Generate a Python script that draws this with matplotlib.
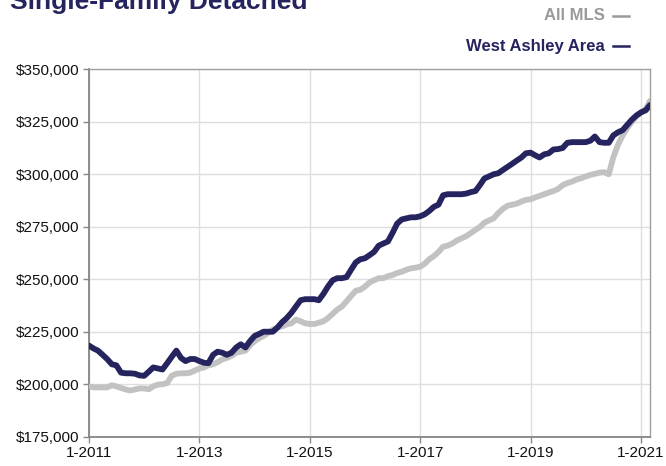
import matplotlib
matplotlib.use("Agg")
import matplotlib.pyplot as plt
import matplotlib.dates as mdates
from matplotlib.lines import Line2D
import pandas as pd

NAVY = "#25245f"
GRAY = "#c2c2c2"

# monthly median sales price, Jan 2011 .. Mar 2021
west_ashley = [
    218400, 217000, 216000, 214000, 212000, 209500, 209000, 205500, 205200, 205200, 205000, 204200,
    204000, 206000, 208000, 207500, 207000, 210000, 213000, 216000, 212500, 211000, 212000, 212000,
    211000, 210200, 210000, 214000, 215500, 215000, 214000, 215000, 217500, 219000, 217500, 220500,
    223000, 224000, 225000, 225000, 225000, 227000, 229500, 231500, 234000, 237000, 240000, 240500,
    240500, 240500, 240000, 243000, 246500, 249500, 250500, 250500, 251000, 254500, 258000, 259500,
    260000, 261500, 263000, 266000, 267000, 268000, 272000, 276500, 278500, 279000, 279500, 279500,
    280000, 281000, 282500, 284500, 285500, 290000, 290500, 290500, 290500, 290500, 290800, 291500,
    292000, 295000, 298000, 299000, 300000, 300500, 302000, 303500, 305000, 306500, 308000, 310000,
    310300, 309000, 308000, 309500, 310000, 311800, 312000, 312500, 315000, 315300, 315300, 315300,
    315300, 316000, 318000, 315300, 315000, 315000, 318500, 320000, 321000, 323500, 326000, 328000,
    329500, 330500, 333000,
]
all_mls = [
    199000, 198500, 198500, 198500, 198500, 199500, 199000, 198200, 197500, 197000, 197500, 198000,
    198000, 197600, 199000, 199800, 200000, 200500, 204000, 205000, 205200, 205200, 205500, 206500,
    207500, 208000, 209000, 209500, 210500, 211800, 212500, 213500, 215000, 215500, 216000, 218500,
    220500, 222000, 223000, 224500, 226000, 227000, 227500, 228500, 229000, 230800, 230000, 229000,
    228700, 228700, 229300, 230000, 231500, 233500, 235500, 237000, 239500, 242000, 244500, 245000,
    246500, 248500, 249500, 250500, 250500, 251500, 252000, 253000, 253600, 254500, 255200, 255500,
    256000, 257500, 259500, 261000, 263000, 265500, 266000, 267000, 268500, 269500, 270500, 272000,
    273500, 275000, 277000, 278000, 279000, 281500, 283500, 285000, 285500, 286000, 287000, 287800,
    288100, 289000, 289700, 290500, 291300, 292000, 293000, 294800, 295800, 296500, 297500, 298100,
    299000, 299700, 300200, 300800, 301000, 300000, 308000, 314000, 318500, 322000, 325000, 327500,
    329500, 331000, 335000,
]
months = pd.date_range("2011-01-01", periods=len(west_ashley), freq="MS")
tick_years = [2011, 2013, 2015, 2017, 2019, 2021]
y_ticks = [175000, 200000, 225000, 250000, 275000, 300000, 325000, 350000]

plt.rcParams["font.family"] = ["Liberation Sans", "DejaVu Sans"]

fig = plt.figure(figsize=(6.66, 4.66), dpi=100)
ax = fig.add_axes([89/666, 1 - 436.7/466, (650 - 89)/666, (436.7 - 69.3)/466])

ax.plot(months, all_mls, color=GRAY, lw=4.2, solid_capstyle="round", solid_joinstyle="round", zorder=3)
ax.plot(months, west_ashley, color=NAVY, lw=4.2, solid_capstyle="round", solid_joinstyle="round", zorder=4)

ax.set_xlim(months[0], months[-1])
ax.set_ylim(175000, 350000)
ax.set_xticks([pd.Timestamp(f"{y}-01-01") for y in tick_years])
ax.set_xticklabels([f"1-{y}" for y in tick_years], fontsize=11)
ax.set_yticks(y_ticks)
ax.set_yticklabels([f"${v:,.0f}" for v in y_ticks], fontsize=11)
ax.grid(True, color="#dedede", lw=1)
ax.set_axisbelow(True)
ax.tick_params(axis="both", color="#888888", length=4, width=1, colors="#111111", pad=3)
ax.tick_params(axis="both", color="#888888")
for s in ("left", "bottom"):
    ax.spines[s].set_color("#858585")
    ax.spines[s].set_linewidth(1.3)
for s in ("top", "right"):
    ax.spines[s].set_color("#a0a0a0")
    ax.spines[s].set_linewidth(1.0)

# cut-off title at the very top
fig.text(10/666, 1 - 9/466, "Single-Family Detached", fontsize=19, fontweight="bold",
         color=NAVY, ha="left", va="baseline")

# legend entries, right aligned with a short dash
fig.text(605/666, 1 - 16/466, "All MLS", fontsize=12, fontweight="bold", color="#9a9a9a",
         ha="right", va="center", family=["Liberation Sans Narrow", "Liberation Sans"])
fig.text(605/666, 1 - 46/466, "West Ashley Area", fontsize=12, fontweight="bold", color=NAVY,
         ha="right", va="center", family=["Liberation Sans Narrow", "Liberation Sans"])
for yy, c in ((16, "#9a9a9a"), (46, NAVY)):
    fig.add_artist(Line2D([613/666, 629/666], [1 - yy/466, 1 - yy/466], color=c, lw=1.8,
                          transform=fig.transFigure))

fig.savefig("out.png", dpi=100)
